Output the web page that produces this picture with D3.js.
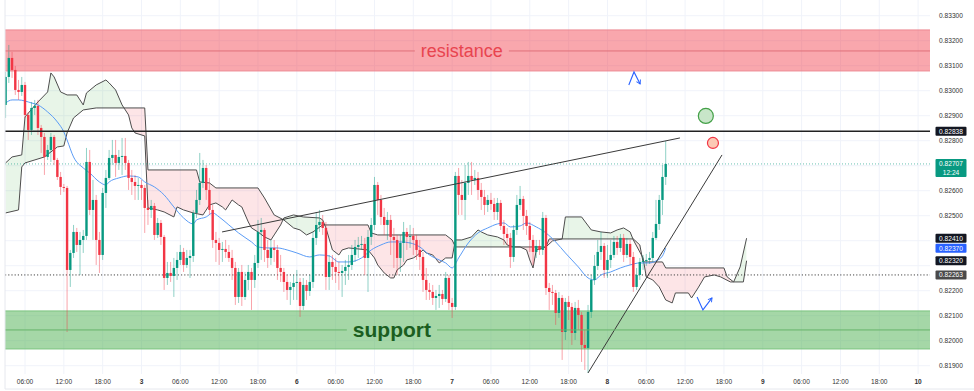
<!DOCTYPE html>
<html>
<head>
<meta charset="utf-8">
<script src="https://cdn.jsdelivr.net/npm/d3@7"></script>
<style>
  body { margin: 0; background: #fff; }
  svg { display: block; font-family: "Liberation Sans", Arial, sans-serif; }
</style>
</head>
<body>
<svg id="chart" width="974" height="391"></svg>
<script>
/** 30 minute bars, slot 0 = day 2 06:00 (weekend gap removed) **/
var firstSlot = -6;
var firstOpen = 0.82943;

var closes = [
  0.83055,0.83131,0.83083,0.83003,0.82995,0.83023,
  0.82903,0.82843,0.82931,0.82939,0.82851,0.82815,0.82735,0.82763,0.82815,0.82723,0.82655,0.82615,
  0.82611,0.82283,0.82351,0.82435,0.82383,0.82403,0.82419,0.82715,0.82523,0.82563,0.82403,0.82343,
  0.82591,0.82651,0.82731,0.82743,0.82711,0.82735,0.82739,0.82711,0.82651,0.82635,0.82619,0.82623,
  0.82611,0.82531,0.82523,0.82539,0.82423,0.82471,0.82415,0.82251,0.82271,0.82259,0.82291,0.82323,
  0.82355,0.82303,0.82331,0.82339,0.82511,0.82563,0.82631,0.82691,0.82603,0.82523,0.82403,0.82391,
  0.82363,0.82367,0.82355,0.82331,0.82291,0.82175,0.82275,0.82175,0.82243,0.82275,0.82243,0.82311,
  0.82435,0.82443,0.82363,0.82331,0.82371,0.82363,0.82291,0.82275,0.82235,0.82203,0.82215,0.82231,
  0.82235,0.82139,0.82223,0.82199,0.82235,0.82411,0.82463,0.82475,0.82451,0.82255,0.82315,0.82295,
  0.82275,0.82271,0.82279,0.82295,0.82303,0.82343,0.82375,0.82383,0.82387,0.82331,0.82415,0.82463,
  0.82623,0.82563,0.82495,0.82463,0.82483,0.82415,0.82403,0.82331,0.82391,0.82435,0.82415,0.82419,
  0.82403,0.82363,0.82335,0.82243,0.82203,0.82195,0.82171,0.82179,0.82187,0.82167,0.82251,0.82151,
  0.82135,0.82659,0.82583,0.82563,0.82631,0.82659,0.82643,0.82651,0.82603,0.82575,0.82543,0.82563,
  0.82547,0.82515,0.82551,0.82459,0.82427,0.82411,0.82335,0.82443,0.82543,0.82567,0.82499,0.82459,
  0.82403,0.82355,0.82379,0.82363,0.82491,0.82211,0.82195,0.82191,0.82111,0.82171,0.82035,0.82155,
  0.82135,0.82031,0.82131,0.82103,0.81983,0.81971,0.82115,0.82243,0.82299,0.82355,0.82379,0.82283,
  0.82323,0.82343,0.82395,0.82371,0.82411,0.82343,0.82387,0.82335,0.82215,0.82263,0.82315,0.82319,
  0.82323,0.82331,0.82411,0.82467,0.82563,0.82655,0.82707
];
var highs = [
  0.83075,0.83183,0.83155,0.83099,0.83043,0.83055,
  0.83035,0.82915,0.82955,0.82963,0.82963,0.82863,0.82831,0.82783,0.82831,0.82823,0.82731,0.82675,
  0.82627,0.82619,0.82363,0.82463,0.82451,0.82435,0.82443,0.82771,0.82763,0.82643,0.82583,0.82435,
  0.82611,0.82683,0.82763,0.82803,0.82803,0.82763,0.82811,0.82811,0.82723,0.82683,0.82663,0.82651,
  0.82643,0.82623,0.82563,0.82563,0.82551,0.82491,0.82483,0.82423,0.82315,0.82315,0.82331,0.82355,
  0.82383,0.82371,0.82363,0.82363,0.82523,0.82603,0.82751,0.82723,0.82703,0.82651,0.82543,0.82435,
  0.82411,0.82395,0.82403,0.82383,0.82363,0.82315,0.82291,0.82303,0.82275,0.82303,0.82291,0.82343,
  0.82483,0.82491,0.82451,0.82403,0.82403,0.82403,0.82383,0.82343,0.82291,0.82263,0.82235,0.82263,
  0.82283,0.82251,0.82251,0.82243,0.82263,0.82435,0.82515,0.82523,0.82503,0.82475,0.82343,0.82343,
  0.82331,0.82315,0.82303,0.82323,0.82343,0.82383,0.82403,0.82415,0.82419,0.82411,0.82443,0.82491,
  0.82655,0.82635,0.82583,0.82531,0.82515,0.82503,0.82451,0.82423,0.82423,0.82475,0.82451,0.82463,
  0.82451,0.82423,0.82403,0.82355,0.82291,0.82231,0.82223,0.82203,0.82223,0.82203,0.82275,0.82263,
  0.82171,0.82675,0.82691,0.82643,0.82703,0.82715,0.82715,0.82683,0.82675,0.82631,0.82603,0.82583,
  0.82591,0.82571,0.82571,0.82563,0.82483,0.82451,0.82431,0.82463,0.82583,0.82619,0.82579,0.82523,
  0.82475,0.82423,0.82403,0.82403,0.82515,0.82503,0.82231,0.82223,0.82203,0.82195,0.82183,0.82171,
  0.82179,0.82151,0.82155,0.82163,0.82115,0.82043,0.82143,0.82263,0.82343,0.82403,0.82435,0.82391,
  0.82383,0.82403,0.82419,0.82419,0.82427,0.82427,0.82411,0.82403,0.82355,0.82291,0.82331,0.82343,
  0.82347,0.82355,0.82435,0.82563,0.82583,0.82703,0.82799
];
var lows = [
  0.82891,0.83031,0.83051,0.82983,0.82963,0.82979,
  0.82891,0.82803,0.82823,0.82903,0.82823,0.82751,0.82663,0.82723,0.82715,0.82703,0.82643,0.82583,
  0.82595,0.82035,0.82215,0.82331,0.82355,0.82263,0.82351,0.82403,0.82503,0.82403,0.82303,0.82271,
  0.82323,0.82531,0.82643,0.82703,0.82655,0.82683,0.82663,0.82683,0.82603,0.82583,0.82563,0.82563,
  0.82563,0.82431,0.82463,0.82491,0.82403,0.82411,0.82383,0.82203,0.82223,0.82235,0.82175,0.82243,
  0.82303,0.82275,0.82291,0.82251,0.82315,0.82491,0.82543,0.82611,0.82563,0.82503,0.82371,0.82315,
  0.82303,0.82315,0.82331,0.82315,0.82243,0.82143,0.82151,0.82139,0.82163,0.82203,0.82123,0.82211,
  0.82291,0.82323,0.82315,0.82291,0.82303,0.82315,0.82243,0.82235,0.82195,0.82163,0.82143,0.82163,
  0.82163,0.82095,0.82123,0.82163,0.82179,0.82211,0.82383,0.82435,0.82423,0.82203,0.82203,0.82243,
  0.82231,0.82203,0.82175,0.82223,0.82243,0.82283,0.82315,0.82331,0.82363,0.82263,0.82195,0.82383,
  0.82443,0.82503,0.82463,0.82423,0.82403,0.82343,0.82291,0.82263,0.82275,0.82315,0.82363,0.82371,
  0.82343,0.82323,0.82283,0.82195,0.82163,0.82163,0.82143,0.82123,0.82131,0.82143,0.82155,0.82123,
  0.82091,0.82123,0.82503,0.82503,0.82483,0.82583,0.82583,0.82623,0.82563,0.82523,0.82503,0.82515,
  0.82523,0.82483,0.82483,0.82443,0.82383,0.82383,0.82291,0.82315,0.82423,0.82523,0.82443,0.82423,
  0.82355,0.82303,0.82331,0.82343,0.82343,0.82183,0.82123,0.82143,0.82063,0.82091,0.81923,0.82003,
  0.82083,0.81983,0.82003,0.82043,0.81915,0.81883,0.81871,0.82091,0.82223,0.82283,0.82323,0.82251,
  0.82251,0.82291,0.82331,0.82343,0.82355,0.82315,0.82331,0.82303,0.82195,0.82203,0.82243,0.82283,
  0.82299,0.82307,0.82315,0.82403,0.82443,0.82503,0.82623
];

/** Ichimoku lead lines [slot, price] **/
var spanA = [
  [-6,0.82711],[-4,0.82735],[-1,0.82743],[0,0.82895],[4,0.82955],[7,0.82995],[8,0.83071],[9,0.83055],
  [11,0.82995],[13,0.82983],[16,0.82983],[18,0.82943],[19,0.82991],[22,0.83023],[25,0.83043],[26,0.83031],
  [28,0.83003],[30,0.82943],[32,0.82903],[33,0.82851],[34,0.82831],[37,0.82819],[38,0.82531],[41,0.82523],
  [43,0.82515],[46,0.82495],[47,0.82535],[49,0.82523],[52,0.82511],[55,0.82503],[57,0.82543],[59,0.82551],
  [61,0.82535],[62,0.82523],[64,0.82563],[66,0.82543],[67,0.82535],[69,0.82475],[70,0.82451],[72,0.82435],
  [74,0.82415],[76,0.82403],[77,0.82423],[79,0.82463],[80,0.82491],[83,0.82503],[86,0.82495],[91,0.82491],
  [92,0.82483],[93,0.82451],[95,0.82363],[97,0.82343],[98,0.82363],[100,0.82371],[106,0.82363],[108,0.82331],
  [109,0.82303],[111,0.82271],[113,0.82251],[114,0.82251],[115,0.82283],[117,0.82303],[118,0.82323],[120,0.82331],
  [121,0.82339],[123,0.82363],[124,0.82351],[126,0.82343],[128,0.82311],[130,0.82331],[132,0.82331],[133,0.82403],
  [135,0.82403],[138,0.82415],[140,0.82443],[141,0.82435],[143,0.82423],[146,0.82415],[148,0.82403],[149,0.82383],
  [151,0.82375],[153,0.82375],[155,0.82363],[156,0.82323],[157,0.82291],[158,0.82363],[161,0.82375],[163,0.82399],
  [166,0.82407],[167,0.82495],[172,0.82495],[175,0.82443],[178,0.82435],[181,0.82431],[183,0.82443],[185,0.82451],
  [187,0.82435],[188,0.82403],[191,0.82331],[192,0.82255],[194,0.82243],[196,0.82215],[198,0.82163],[200,0.82151],
  [201,0.82191],[205,0.82191],[206,0.82171],[208,0.82211],[210,0.82255],[213,0.82263],[215,0.82255],[218,0.82235],
  [219,0.82235],[221,0.82295],[223,0.82410]
];
var spanB = [
  [-6,0.82511],[-2,0.82523],[-1,0.82695],[0,0.82711],[6,0.82735],[10,0.82775],[12,0.82779],[13,0.82831],
  [15,0.82891],[18,0.82923],[22,0.82931],[37,0.82931],[38,0.82683],[53,0.82683],[54,0.82635],[57,0.82631],
  [59,0.82611],[72,0.82611],[74,0.82571],[77,0.82503],[80,0.82483],[83,0.82451],[85,0.82443],[87,0.82423],
  [89,0.82435],[92,0.82463],[106,0.82463],[107,0.82431],[109,0.82423],[130,0.82423],[132,0.82403],[133,0.82375],
  [161,0.82375],[162,0.82407],[188,0.82407],[190,0.82383],[191,0.82315],[197,0.82315],[198,0.82291],[216,0.82291],
  [217,0.82255],[219,0.82235],[222,0.82235],[223,0.82320]
];
/** Blue moving average [slot, price] **/
var maLine = [
  [-6,0.82951],[-4,0.82963],[-2,0.82963],[2,0.82951],[4,0.82943],[7,0.82915],[10,0.82875],[12,0.82835],
  [13,0.82803],[15,0.82735],[18,0.82691],[20,0.82671],[23,0.82635],[25,0.82623],[26,0.82635],[29,0.82651],
  [32,0.82659],[35,0.82655],[37,0.82635],[40,0.82615],[43,0.82583],[46,0.82535],[49,0.82491],[52,0.82467],
  [53,0.82483],[56,0.82495],[58,0.82511],[60,0.82495],[63,0.82463],[66,0.82431],[70,0.82395],[72,0.82375],
  [75,0.82371],[78,0.82371],[81,0.82363],[84,0.82351],[88,0.82335],[91,0.82343],[94,0.82339],[97,0.82315],
  [100,0.82315],[104,0.82331],[107,0.82363],[110,0.82383],[113,0.82395],[116,0.82395],[119,0.82391],[122,0.82375],
  [125,0.82343],[128,0.82323],[130,0.82311],[132,0.82291],[134,0.82331],[137,0.82391],[140,0.82431],[143,0.82451],
  [146,0.82467],[148,0.82471],[150,0.82455],[153,0.82459],[155,0.82471],[158,0.82455],[161,0.82431],[164,0.82395],
  [167,0.82351],[171,0.82295],[174,0.82251],[176,0.82243],[178,0.82263],[181,0.82275],[184,0.82291],[187,0.82303],
  [190,0.82311],[193,0.82311],[195,0.82319],[197,0.82339],[198,0.82370]
];

/** axis ticks **/
var priceTicks = d3.range(0, 15).map(function (i) { return +(0.819 + i * 0.001).toFixed(3); });
var timeLabels = ["06:00","12:00","18:00","3","06:00","12:00","18:00","6","06:00","12:00","18:00","7",
                  "06:00","12:00","18:00","8","06:00","12:00","18:00","9","06:00","12:00","18:00","10"];

/** levels and zones **/
var resistance = {top: 0.83243, mid: 0.83159, bottom: 0.83079, label: "resistance", labelSlot: 135};
var support = {top: 0.82119, mid: 0.82043, bottom: 0.81967, label: "support", labelSlot: 113.4};
var keyLevel = 0.82838;
var dottedLevel = 0.82263;
var lastPrice = 0.82707;
var countdown = "12:24";

/** hand drawn lines [slot, price] **/
var trendUpper = [[60.9, 0.82435], [202.4, 0.82811]];
var trendSteep = [[174, 0.81871], [215.4, 0.82743]];
var arrowTop = [[186.6, 0.83023], [188.2, 0.83075], [190.1, 0.83027]];
var arrowBottom = [[207.7, 0.82175], [209.5, 0.82123], [212.3, 0.82171]];
var circleGreen = [210.4, 0.82899];
var circleRed = [212.6, 0.82791];

/** right axis price tags **/
var priceTags = [
  {v: 0.82838, bg: "#131722"},
  {v: 0.82410, bg: "#131722"},
  {v: 0.82370, bg: "#2962ff"},
  {v: 0.82320, bg: "#131722"},
  {v: 0.82263, bg: "#4a4a4a"}
];

var W = 974, H = 391;
var plotLeft = 5, plotRight = 930, plotBottom = 374;
var upColor = "#089981", downColor = "#f23645";

var x = d3.scaleLinear().domain([0, 276]).range([25, 918.1]);
var y = d3.scaleLinear().domain([0.819, 0.833]).range([365.7, 15.7]);

var svg = d3.select("#chart");
svg.append("rect").attr("width", W).attr("height", H).attr("fill", "#fff");

var defs = svg.append("defs");
defs.append("clipPath").attr("id", "plotClip")
    .append("rect").attr("x", plotLeft).attr("y", 0)
    .attr("width", plotRight - plotLeft).attr("height", plotBottom);

/** cloud clip regions: above span B and below span B **/
var areaAboveB = d3.area().x(function (d) { return x(d[0]); }).y0(-50).y1(function (d) { return y(d[1]); });
var areaBelowB = d3.area().x(function (d) { return x(d[0]); }).y0(function (d) { return y(d[1]); }).y1(H + 50);
defs.append("clipPath").attr("id", "aboveB").append("path").attr("d", areaAboveB(spanB));
defs.append("clipPath").attr("id", "belowB").append("path").attr("d", areaBelowB(spanB));

var marker = defs.append("marker").attr("id", "arrowHead")
    .attr("viewBox", "0 0 8 8").attr("refX", 6).attr("refY", 4)
    .attr("markerWidth", 6).attr("markerHeight", 6).attr("orient", "auto")
    .attr("markerUnits", "userSpaceOnUse");
marker.append("path").attr("d", "M1,1 L6,4 L1,7").attr("fill", "none")
    .attr("stroke", "#2962ff").attr("stroke-width", 1.3);

var plot = svg.append("g").attr("clip-path", "url(#plotClip)");

/** grid **/
plot.selectAll(".hgrid").data(priceTicks).enter().append("line")
    .attr("x1", plotLeft).attr("x2", plotRight)
    .attr("y1", function (d) { return y(d); }).attr("y2", function (d) { return y(d); })
    .attr("stroke", "#f0f3fa").attr("stroke-width", 1);
plot.selectAll(".vgrid").data(timeLabels).enter().append("line")
    .attr("x1", function (d, i) { return x(i * 12); }).attr("x2", function (d, i) { return x(i * 12); })
    .attr("y1", 0).attr("y2", plotBottom)
    .attr("stroke", "#f0f3fa").attr("stroke-width", 1);

/** zones **/
function drawZone(z, fill, opacity, edge) {
    plot.append("rect")
        .attr("x", plotLeft).attr("width", plotRight - plotLeft)
        .attr("y", y(z.top)).attr("height", y(z.bottom) - y(z.top))
        .attr("fill", fill).attr("fill-opacity", opacity);
    [z.top, z.bottom].forEach(function (v) {
        plot.append("line").attr("x1", plotLeft).attr("x2", plotRight)
            .attr("y1", y(v)).attr("y2", y(v))
            .attr("stroke", edge).attr("stroke-width", 1);
    });
}
drawZone(resistance, "#f23645", 0.44, "#ec8a92");
drawZone(support, "#4caf50", 0.5, "#7cc47f");

/** ichimoku cloud **/
var cloudPoly = spanA.concat(spanB.slice().reverse());
var polyLine = d3.line().x(function (d) { return x(d[0]); }).y(function (d) { return y(d[1]); });
var cloudPath = polyLine(cloudPoly) + "Z";
plot.append("path").attr("d", cloudPath).attr("fill", "#4caf50").attr("fill-opacity", 0.13)
    .attr("clip-path", "url(#aboveB)");
plot.append("path").attr("d", cloudPath).attr("fill", "#f23645").attr("fill-opacity", 0.13)
    .attr("clip-path", "url(#belowB)");
[spanA, spanB].forEach(function (s) {
    plot.append("path").attr("d", polyLine(s)).attr("fill", "none")
        .attr("stroke", "#4d4d4d").attr("stroke-width", 1);
});

/** horizontal levels **/
plot.append("line").attr("x1", plotLeft).attr("x2", plotRight)
    .attr("y1", y(lastPrice)).attr("y2", y(lastPrice))
    .attr("stroke", upColor).attr("stroke-opacity", 0.6).attr("stroke-width", 1).attr("stroke-dasharray", "1,2");
plot.append("line").attr("x1", plotLeft).attr("x2", plotRight)
    .attr("y1", y(dottedLevel)).attr("y2", y(dottedLevel))
    .attr("stroke", "#444").attr("stroke-width", 1).attr("stroke-dasharray", "1.2,2");

/** blue line **/
plot.append("path").attr("d", d3.line().curve(d3.curveMonotoneX)
        .x(function (d) { return x(d[0]); }).y(function (d) { return y(d[1]); })(maLine))
    .attr("fill", "none").attr("stroke", "#5b9cf6").attr("stroke-width", 1);

/** candles **/
var candles = closes.map(function (c, i) {
    var o = i === 0 ? firstOpen : closes[i - 1];
    return {slot: firstSlot + i, o: o, c: c,
            h: Math.max(highs[i], o, c), l: Math.min(lows[i], o, c)};
});
var candleG = plot.selectAll(".candle").data(candles).enter().append("g");
candleG.append("line")
    .attr("x1", function (d) { return x(d.slot); }).attr("x2", function (d) { return x(d.slot); })
    .attr("y1", function (d) { return y(d.h); }).attr("y2", function (d) { return y(d.l); })
    .attr("stroke", function (d) { return d.c >= d.o ? upColor : downColor; })
    .attr("stroke-opacity", 0.45).attr("stroke-width", 1);
candleG.append("rect")
    .attr("x", function (d) { return x(d.slot) - 1.2; }).attr("width", 2.4)
    .attr("y", function (d) { return y(Math.max(d.o, d.c)); })
    .attr("height", function (d) { return Math.max(0.8, Math.abs(y(d.o) - y(d.c))); })
    .attr("fill", function (d) { return d.c >= d.o ? upColor : downColor; });

/** key horizontal level **/
plot.append("line").attr("x1", plotLeft).attr("x2", plotRight)
    .attr("y1", y(keyLevel)).attr("y2", y(keyLevel))
    .attr("stroke", "#222").attr("stroke-width", 1.4);

/** trend lines **/
[trendUpper, trendSteep].forEach(function (t) {
    plot.append("path").attr("d", polyLine(t)).attr("fill", "none")
        .attr("stroke", "#3a3a3a").attr("stroke-width", 1);
});

/** arrows and circles **/
[arrowTop, arrowBottom].forEach(function (a) {
    plot.append("path").attr("d", polyLine(a)).attr("fill", "none")
        .attr("stroke", "#2962ff").attr("stroke-width", 1.1)
        .attr("marker-end", "url(#arrowHead)");
});
plot.append("circle").attr("cx", x(circleGreen[0])).attr("cy", y(circleGreen[1])).attr("r", 7.5)
    .attr("fill", "#c8e6c9").attr("stroke", "#43a047").attr("stroke-width", 1.2);
plot.append("circle").attr("cx", x(circleRed[0])).attr("cy", y(circleRed[1])).attr("r", 5.5)
    .attr("fill", "#fcc9b5").attr("stroke", "#f23645").attr("stroke-width", 1.2);

/** zone labels with gap in the middle line **/
function zoneLabel(z, color, size, weight, lineColor) {
    var t = plot.append("text").text(z.label)
        .attr("x", x(z.labelSlot)).attr("y", y(z.mid))
        .attr("text-anchor", "middle").attr("dominant-baseline", "central")
        .style("font-size", size + "px").style("font-weight", weight).style("fill", color);
    var w = t.node().getComputedTextLength();
    var cx = x(z.labelSlot);
    plot.insert("line", "text").attr("x1", plotLeft).attr("x2", cx - w / 2 - 6)
        .attr("y1", y(z.mid)).attr("y2", y(z.mid)).attr("stroke", lineColor).attr("stroke-width", 1);
    plot.insert("line", "text").attr("x1", cx + w / 2 + 6).attr("x2", plotRight)
        .attr("y1", y(z.mid)).attr("y2", y(z.mid)).attr("stroke", lineColor).attr("stroke-width", 1);
}
zoneLabel(resistance, "#e8444f", 18, 400, "#e0707a");
zoneLabel(support, "#1b5e20", 21, 700, "#66b56a");

/** right price axis: tick labels hidden under the price tags **/
var tagYs = priceTags.map(function (p) { return y(p.v); });
function coveredByTag(v) {
    var py = y(v);
    var nearTag = tagYs.some(function (ty) { return Math.abs(ty - py) < 8; });
    var inLastBox = py > y(lastPrice) - 9 && py < y(lastPrice) + 17;
    return nearTag || inLastBox;
}
var axisG = svg.append("g").style("font-size", "6.6px").style("fill", "#333");
axisG.selectAll(".ptick").data(priceTicks.filter(function (v) { return !coveredByTag(v); }))
    .enter().append("text")
    .attr("x", 951).attr("y", function (d) { return y(d); })
    .attr("text-anchor", "middle").attr("dominant-baseline", "central")
    .text(function (d) { return d.toFixed(5); });

priceTags.forEach(function (p) {
    axisG.append("rect").attr("x", 935.5).attr("y", y(p.v) - 4.5).attr("width", 31).attr("height", 9)
        .attr("rx", 1).attr("fill", p.bg);
    axisG.append("text").attr("x", 951).attr("y", y(p.v))
        .attr("text-anchor", "middle").attr("dominant-baseline", "central")
        .style("fill", "#fff").text(p.v.toFixed(5));
});
axisG.append("rect").attr("x", 935.5).attr("y", y(lastPrice) - 5).attr("width", 31).attr("height", 18)
    .attr("rx", 1).attr("fill", upColor);
axisG.append("text").attr("x", 951).attr("y", y(lastPrice))
    .attr("text-anchor", "middle").attr("dominant-baseline", "central")
    .style("fill", "#fff").text(lastPrice.toFixed(5));
axisG.append("text").attr("x", 951).attr("y", y(lastPrice) + 8.5)
    .attr("text-anchor", "middle").attr("dominant-baseline", "central")
    .style("fill", "#fff").text(countdown);

/** bottom time axis **/
var timeG = svg.append("g").style("font-size", "6.6px").style("fill", "#333");
timeG.selectAll(".ttick").data(timeLabels).enter().append("text")
    .attr("x", function (d, i) { return x(i * 12); }).attr("y", 381)
    .attr("text-anchor", "middle").attr("dominant-baseline", "central")
    .style("font-weight", function (d) { return d.indexOf(":") < 0 ? 700 : 400; })
    .text(function (d) { return d; });

/** chart frame **/
svg.append("line").attr("x1", plotLeft).attr("x2", plotLeft).attr("y1", 0).attr("y2", 389)
    .attr("stroke", "#e6e8ee").attr("stroke-width", 1);
svg.append("line").attr("x1", plotLeft).attr("x2", W).attr("y1", 389).attr("y2", 389)
    .attr("stroke", "#e6e8ee").attr("stroke-width", 1);
</script>
</body>
</html>
